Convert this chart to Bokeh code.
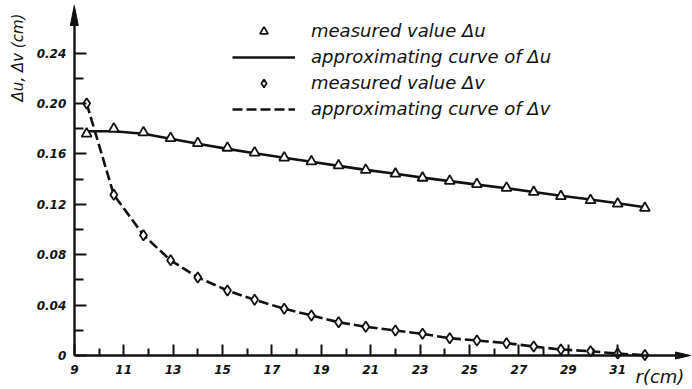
from math import pi

from bokeh.embed import file_html
from bokeh.models import (CustomJSTickFormatter, FixedTicker, Label, Legend,
                          LegendItem, LinearAxis, Range1d)
from bokeh.plotting import figure
from bokeh.resources import INLINE

# radius r (cm) of the measuring points
r = [9.5, 10.6, 11.8, 12.9, 14.0, 15.2, 16.3, 17.5, 18.6, 19.7, 20.8,
     22.0, 23.1, 24.2, 25.3, 26.5, 27.6, 28.7, 29.9, 31.0, 32.1]

# displacement du (cm): measured values and approximating curve
du_measured = [0.176, 0.180, 0.177, 0.1725, 0.1685, 0.1648, 0.161, 0.157,
               0.154, 0.1508, 0.1472, 0.1442, 0.141, 0.1385, 0.136, 0.133,
               0.1297, 0.1264, 0.1232, 0.1204, 0.117]
du_curve = [0.178, 0.178, 0.176, 0.172, 0.168, 0.164, 0.1605, 0.157, 0.1537,
            0.1505, 0.1473, 0.1442, 0.1412, 0.1384, 0.1356, 0.1328, 0.1298,
            0.1268, 0.1238, 0.1208, 0.1176]

# displacement dv (cm): measured values and approximating curve
dv_measured = [0.200, 0.1275, 0.0955, 0.0755, 0.062, 0.0516, 0.0442, 0.0371,
               0.0318, 0.0264, 0.0228, 0.0198, 0.0172, 0.0137, 0.0119, 0.0098,
               0.0071, 0.0048, 0.0034, 0.0015, 0.0003]
dv_curve = [0.200, 0.1275, 0.0955, 0.0755, 0.062, 0.0516, 0.0442, 0.0371,
            0.0318, 0.0264, 0.0228, 0.0198, 0.0172, 0.0137, 0.0119, 0.0098,
            0.0071, 0.0048, 0.0034, 0.0015, 0.0003]

# axis ticks
x_major = [9, 11, 13, 15, 17, 19, 21, 23, 25, 27, 29, 31]
x_minor = [10, 12, 14, 16, 18, 20, 22, 24, 26, 28, 30]
y_major = [0, 0.04, 0.08, 0.12, 0.16, 0.20, 0.24]
y_minor = [0.02, 0.06, 0.10, 0.14, 0.18, 0.22]

# page geometry: the frame fills the canvas, the axes are pinned at r=9, d=0
W, H = 692, 389
ORIGIN_X, ORIGIN_Y = 73.8, 355.0      # pixel position of (9, 0)
PX_PER_CM = 24.7                        # horizontal scale
PX_PER_D = 1260.0                       # vertical scale
INK = "#111111"
TICK_FONT = "DejaVu Sans"

p = figure(width=W, height=H, output_backend="svg", toolbar_location=None,
           x_axis_location=None, y_axis_location=None, min_border=0,
           x_range=Range1d(9 - ORIGIN_X / PX_PER_CM, 9 + (W - ORIGIN_X) / PX_PER_CM),
           y_range=Range1d(-(H - ORIGIN_Y) / PX_PER_D, ORIGIN_Y / PX_PER_D))
p.outline_line_color = None
p.xgrid.visible = False
p.ygrid.visible = False
p.background_fill_color = "white"
p.border_fill_color = "white"

# arrow tips of both axes
x_tip = 9 + (690 - ORIGIN_X) / PX_PER_CM
y_tip = (ORIGIN_Y - 5) / PX_PER_D


def style_axis(ax, tick_in, minor_in):
    ax.axis_line_width = 2.4
    ax.axis_line_color = INK
    ax.major_tick_in = tick_in
    ax.major_tick_out = 0
    ax.minor_tick_in = minor_in
    ax.minor_tick_out = 0
    ax.major_tick_line_width = 2
    ax.minor_tick_line_width = 2
    ax.major_tick_line_color = INK
    ax.minor_tick_line_color = INK
    ax.major_label_text_font = TICK_FONT
    ax.major_label_text_font_style = "bold italic"
    ax.major_label_text_font_size = "12px"
    ax.major_label_text_color = INK


xaxis = LinearAxis(fixed_location=0, bounds=(9, x_tip - 6 / PX_PER_CM),
                   ticker=FixedTicker(ticks=x_major, minor_ticks=x_minor))
style_axis(xaxis, 11, 7)
xaxis.major_label_standoff = 9
p.add_layout(xaxis, "below")

yaxis = LinearAxis(fixed_location=9, bounds=(0, y_tip - 6 / PX_PER_D),
                   ticker=FixedTicker(ticks=y_major, minor_ticks=y_minor),
                   formatter=CustomJSTickFormatter(
                       code="return tick == 0 ? '0' : tick.toFixed(2);"))
style_axis(yaxis, 12, 9)
yaxis.major_label_standoff = 8
p.add_layout(yaxis, "left")

# filled arrow heads at the ends of the axes
xh_len, xh_half = 15 / PX_PER_CM, 3.5 / PX_PER_D
yh_len, yh_half = 20 / PX_PER_D, 4 / PX_PER_CM
p.patches(xs=[[x_tip, x_tip - xh_len, x_tip - xh_len], [9, 9 - yh_half, 9 + yh_half]],
          ys=[[0, xh_half, -xh_half], [y_tip, y_tip - yh_len, y_tip - yh_len]],
          fill_color=INK, line_color=INK, line_width=1)

# approximating curves
u_line = p.line(r, du_curve, line_color=INK, line_width=2.6)
v_line = p.line(r, dv_curve, line_color=INK, line_width=2.6, line_dash="10 4")

# measured values
u_pts = p.scatter(r, du_measured, marker="triangle", size=10,
                  fill_color="white", line_color=INK, line_width=1.8)
v_pts = p.scatter(r, dv_measured, marker="diamond", size=10.5,
                  fill_color="white", line_color=INK, line_width=1.8)

legend = Legend(items=[
    LegendItem(label="measured value \u0394u", renderers=[u_pts]),
    LegendItem(label="approximating curve of \u0394u", renderers=[u_line]),
    LegendItem(label="measured value \u0394v", renderers=[v_pts]),
    LegendItem(label="approximating curve of \u0394v", renderers=[v_line]),
], location=(232, H - 119), glyph_width=63, glyph_height=20, label_height=20,
    spacing=5, padding=0, margin=0, label_standoff=16,
    border_line_alpha=0, background_fill_alpha=0,
    label_text_font="DejaVu Sans", label_text_font_style="italic",
    label_text_font_size="18px", label_text_color=INK)
p.add_layout(legend)

# axis titles
p.add_layout(Label(x=17, y=H - 57, x_units="screen", y_units="screen",
                   text="\u0394u, \u0394v (cm)", angle=pi / 2,
                   text_align="center", text_baseline="middle",
                   text_font="DejaVu Sans", text_font_style="italic",
                   text_font_size="15px", text_color=INK))
p.add_layout(Label(x=635, y=H - 376, x_units="screen", y_units="screen",
                   text="r(cm)", text_align="left", text_baseline="middle",
                   text_font="DejaVu Sans", text_font_style="italic",
                   text_font_size="18px", text_color=INK))

open("out.html", "w").write(file_html(p, INLINE))
